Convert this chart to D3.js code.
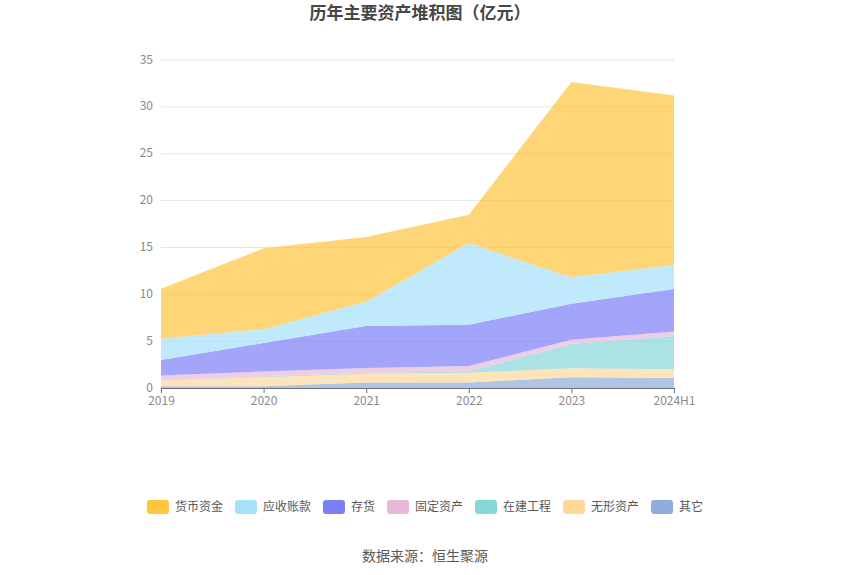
<!DOCTYPE html>
<html>
<head>
<meta charset="utf-8">
<script src="https://cdn.jsdelivr.net/npm/d3@7"></script>
<style>
  body { margin: 0; background: #fff; }
  text { font-family: "Noto Sans CJK SC", "Noto Sans", sans-serif; }
</style>
</head>
<body>
<script>
var years = ["2019", "2020", "2021", "2022", "2023", "2024H1"];
var seriesNames = ["货币资金", "应收账款", "存货", "固定资产", "在建工程", "无形资产", "其它"];
var cash = [5.33, 8.62, 6.9, 3.03, 20.85, 18.07];
var receivables = [2.27, 1.49, 2.58, 8.71, 2.81, 2.56];
var inventory = [1.64, 3.02, 4.48, 4.41, 3.84, 4.55];
var fixedAssets = [0.53, 0.54, 0.5, 0.57, 0.46, 0.47];
var construction = [0.02, 0.08, 0.11, 0.15, 2.6, 3.55];
var intangible = [0.61, 0.95, 0.95, 1.02, 0.96, 0.93];
var others = [0.18, 0.2, 0.58, 0.6, 1.14, 1.07];
var yTicks = [0, 5, 10, 15, 20, 25, 30, 35];
var colors = ["#ffc53d", "#a5e1fb", "#7b7ff6", "#e8b8da", "#87d6d8", "#ffd99b", "#8eaddc"];

var allValues = [cash, receivables, inventory, fixedAssets, construction, intangible, others];

var rows = years.map(function (y, i) {
  var r = { year: y };
  seriesNames.forEach(function (n, k) { r[n] = allValues[k][i]; });
  return r;
});

var width = 850, height = 575;
var svg = d3.select("body").append("svg").attr("width", width).attr("height", height);

var x = d3.scalePoint().domain(years).range([161, 674]);
var y = d3.scaleLinear().domain([0, 35]).range([388, 60]);

// grid
svg.append("g").selectAll("line")
  .data(yTicks.slice(1))
  .enter().append("line")
  .attr("x1", 161).attr("x2", 674)
  .attr("y1", function (d) { return y(d); })
  .attr("y2", function (d) { return y(d); })
  .style("stroke", "#e0e6f1");

// stack: bottom is last legend item
var stackKeys = seriesNames.slice().reverse();
var stacked = d3.stack().keys(stackKeys)(rows);

var area = d3.area()
  .x(function (d) { return x(d.data.year); })
  .y0(function (d) { return y(d[0]); })
  .y1(function (d) { return y(d[1]); });

svg.append("g").selectAll("path")
  .data(stacked)
  .enter().append("path")
  .attr("d", area)
  .style("fill", function (d) { return colors[seriesNames.indexOf(d.key)]; })
  .style("fill-opacity", 0.7);

// y axis labels
svg.append("g").selectAll("text")
  .data(yTicks)
  .enter().append("text")
  .attr("x", 153)
  .attr("y", function (d) { return y(d); })
  .attr("dy", "0.3em")
  .attr("text-anchor", "end")
  .style("font-size", "12px")
  .style("fill", "#8a8a8a")
  .text(function (d) { return d; });

// x axis
var xAxis = svg.append("g").attr("transform", "translate(0,388)")
  .call(d3.axisBottom(x).tickSize(5).tickPadding(3));
xAxis.select(".domain").style("stroke", "#6e7079").attr("d", "M161,0.5H674");
xAxis.selectAll(".tick line").style("stroke", "#6e7079");
xAxis.selectAll(".tick text")
  .style("font-size", "12px")
  .style("fill", "#8a8a8a")
  .style("font-family", "\"Noto Sans CJK SC\", \"Noto Sans\", sans-serif");

// title
svg.append("text")
  .attr("x", 420).attr("y", 19)
  .attr("text-anchor", "middle")
  .style("font-size", "17px")
  .style("font-weight", "bold")
  .style("fill", "#464646")
  .text("历年主要资产堆积图（亿元）");

// legend, laid out from the text widths and centred
var legend = svg.append("g");
var items = legend.selectAll("g")
  .data(seriesNames)
  .enter().append("g");
items.append("rect")
  .attr("y", 500).attr("width", 22).attr("height", 14)
  .attr("rx", 3)
  .style("fill", function (d, i) { return colors[i]; });
items.append("text")
  .attr("x", 28).attr("y", 507).attr("dy", "0.35em")
  .style("font-size", "12px")
  .style("fill", "#595959")
  .text(function (d) { return d; });
var offsets = [], pos = 0;
items.each(function () {
  offsets.push(pos);
  pos += 28 + d3.select(this).select("text").node().getComputedTextLength() + 12;
});
var startX = 425 - (pos - 12) / 2;
items.attr("transform", function (d, i) { return "translate(" + (startX + offsets[i]) + ",0)"; });

// source
svg.append("text")
  .attr("x", 425).attr("y", 561)
  .attr("text-anchor", "middle")
  .style("font-size", "14px")
  .style("fill", "#595959")
  .text("数据来源：恒生聚源");
</script>
</body>
</html>
